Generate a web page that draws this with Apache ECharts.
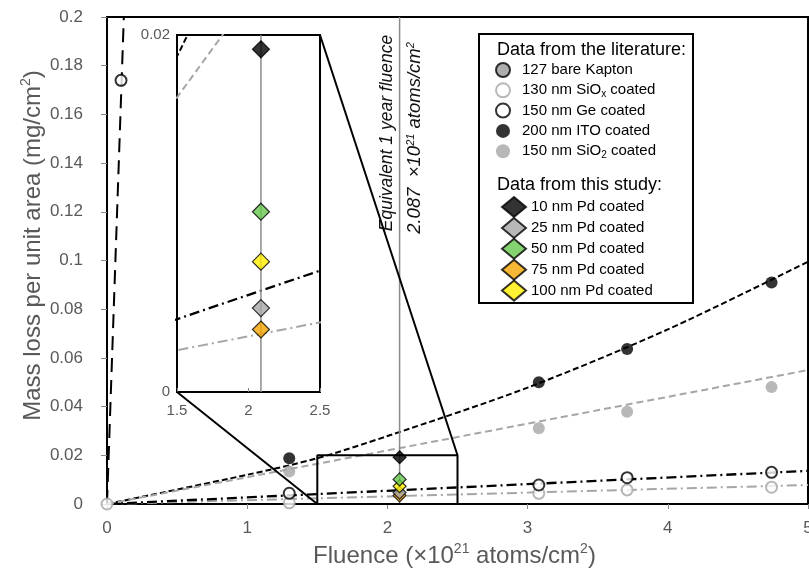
<!DOCTYPE html>
<html><head><meta charset="utf-8">
<script src="https://cdn.jsdelivr.net/npm/echarts@6/dist/echarts.min.js"></script>
<style>html,body{margin:0;padding:0;background:#fff}#c{width:809px;height:568px}</style>
</head><body><div id="c"></div><script>
// ---- Data from the literature (fluence ×10^21 atoms/cm², mass loss mg/cm²)
const kaptonX = [0.1];
const kaptonY = [0.174];
const siOxX = [0, 1.3, 3.08, 3.71, 4.74];
const siOxY = [0, 0.0005, 0.0044, 0.0058, 0.0069];
const geX = [1.3, 3.08, 3.71, 4.74];
const geY = [0.0044, 0.0078, 0.0108, 0.013];
const itoX = [1.3, 3.08, 3.71, 4.74];
const itoY = [0.0188, 0.050, 0.0637, 0.091];
const siO2X = [1.3, 3.08, 3.71, 4.74];
const siO2Y = [0.0133, 0.0311, 0.0379, 0.048];
// ---- Data from this study
const pdFluence = 2.087;
const pdNames = ['10 nm Pd coated', '25 nm Pd coated', '50 nm Pd coated', '75 nm Pd coated', '100 nm Pd coated'];
const pdY = [0.0192, 0.0047, 0.0101, 0.0035, 0.0073];
// ---- Trend lines
const kaptonFitX = [0, 0.12];
const kaptonFitY = [0, 0.2];
const siOxFitX = [0, 5];
const siOxFitY = [0, 0.0078];
const geFitX = [0, 5];
const geFitY = [0, 0.0136];
const siO2FitX = [0, 5];
const siO2FitY = [0, 0.055];
const itoFitX = [0, 1, 1.5, 2, 3, 4, 5];
const itoFitY = [0, 0.012, 0.0188, 0.0279, 0.0478, 0.0717, 0.0995];
// ---- Equivalent 1 year fluence line
const yearLineY = [0, 0.2];
const insetLineY = [0, 0.02];
// ---- zoom window
const zoomX = [1.5, 2.5];
const zoomY = [0, 0.02];

const FONT = "'Liberation Sans', Arial, sans-serif";
const GRAY = '#595959';
const zip = (xs, ys) => xs.map((x, i) => [x, ys[i]]);
const pdColors = ['#000000', '#a6a6a6', '#66c84c', '#f5a400', '#ffee00'];

const chart = echarts.init(document.getElementById('c'), null, {renderer: 'canvas'});

function fit(name, xs, ys, color, type, grid, width) {
  return {
    name: name, type: 'line', xAxisIndex: grid, yAxisIndex: grid,
    data: zip(xs, ys), showSymbol: false, symbol: 'none', silent: true,
    smooth: xs.length > 2 ? 0.3 : false, clip: true, z: grid === 1 ? 6 : 3,
    lineStyle: {color: color, width: width || 2, type: type}
  };
}
function scatter(name, xs, ys, style, grid, size, symbol, z) {
  return {
    name: name, type: 'scatter', xAxisIndex: grid, yAxisIndex: grid,
    data: zip(xs, ys), symbol: symbol || 'circle', symbolSize: size, z: z || 5,
    itemStyle: style, clip: false
  };
}

const dashDot = [10, 4, 2, 4];
const series = [
  fit('fitKapton', kaptonFitX, kaptonFitY, '#000', [14, 8], 0),
  fit('fitSiOx', siOxFitX, siOxFitY, '#a6a6a6', dashDot, 0),
  fit('fitGe', geFitX, geFitY, '#000', dashDot, 0, 2.3),
  fit('fitITO', itoFitX, itoFitY, '#000', [6, 3], 0),
  fit('fitSiO2', siO2FitX, siO2FitY, '#a6a6a6', [7, 4], 0),
  fit('yearLine', [pdFluence, pdFluence], yearLineY, '#8c8c8c', 'solid', 0, 1.5),
  fit('zoomRect', [zoomX[0], zoomX[1], zoomX[1], zoomX[0], zoomX[0]], [zoomY[0], zoomY[0], zoomY[1], zoomY[1], zoomY[0]], '#000', 'solid', 0, 2),
  scatter('127 bare Kapton', kaptonX, kaptonY, {color: '#ffffff', borderColor: '#000', borderWidth: 2}, 0, 11),
  scatter('130 nm SiOx coated', siOxX, siOxY, {color: '#ffffff', borderColor: '#a6a6a6', borderWidth: 2}, 0, 11),
  scatter('150 nm Ge coated', geX, geY, {color: '#ffffff', borderColor: '#000', borderWidth: 2}, 0, 11),
  scatter('200 nm ITO coated', itoX, itoY, {color: '#000'}, 0, 12),
  scatter('150 nm SiO2 coated', siO2X, siO2Y, {color: '#a6a6a6'}, 0, 12),
  // inset
  fit('iSiOx', siOxFitX, siOxFitY, '#a6a6a6', dashDot, 1),
  fit('iGe', geFitX, geFitY, '#000', dashDot, 1, 2.3),
  fit('iITO', itoFitX, itoFitY, '#000', [6, 3], 1),
  fit('iSiO2', siO2FitX, siO2FitY, '#a6a6a6', [7, 4], 1),
  fit('iYear', [pdFluence, pdFluence], insetLineY, '#8c8c8c', 'solid', 1, 1.5)
];
const pdOrderMain = [3, 1, 4, 2, 0];
pdOrderMain.forEach((k, j) => {
  series.push(scatter(pdNames[k], [pdFluence], [pdY[k]], {color: pdColors[k], borderColor: '#000', borderWidth: 1.2}, 0, 13, 'diamond', 6 + j));
});
[0, 1, 2, 3, 4].forEach(k => {
  series.push(scatter(pdNames[k], [pdFluence], [pdY[k]], {color: pdColors[k], borderColor: '#000', borderWidth: 1.2}, 1, 17, 'diamond', 8));
});

const legendFormatter = function (name) {
  return name.replace('SiOx', 'SiO{sub|x}').replace('SiO2', 'SiO{sub|2}');
};
const legendText = {
  fontFamily: FONT, fontSize: 15, color: '#000', lineHeight: 18,
  rich: {sub: {fontFamily: FONT, fontSize: 10, lineHeight: 10, verticalAlign: 'bottom', color: '#000'}}
};

const option = {
  animation: false,
  backgroundColor: '#fff',
  textStyle: {fontFamily: FONT},
  grid: [
    {left: 107, right: 1, top: 17, bottom: 64, show: true, borderColor: '#000', borderWidth: 2, backgroundColor: 'transparent', outerBoundsMode: 'none', containLabel: false},
    {left: 177, top: 35, width: 143, height: 357, show: true, borderColor: '#000', borderWidth: 2, backgroundColor: '#fff', z: 4, outerBoundsMode: 'none', containLabel: false}
  ],
  xAxis: [
    {type: 'value', gridIndex: 0, min: 0, max: 5, interval: 1,
      axisLine: {show: true, lineStyle: {color: '#000', width: 2}},
      axisTick: {show: true, length: 5, lineStyle: {color: '#888'}},
      axisLabel: {color: GRAY, fontSize: 17, margin: 16, fontFamily: FONT},
      splitLine: {show: false},
      name: 'Fluence (×10{sup|21} atoms/cm{sup|2})', nameLocation: 'middle', nameGap: 35,
      nameTextStyle: {color: GRAY, fontSize: 24, fontFamily: FONT, lineHeight: 28, padding: [0, 6, 0, 0],
        rich: {sup: {fontSize: 14, lineHeight: 14, verticalAlign: 'top', color: GRAY, fontFamily: FONT}}}
    },
    {type: 'value', gridIndex: 1, min: 1.5, max: 2.5, interval: 0.5, z: 5,
      axisLine: {show: true, lineStyle: {color: '#000', width: 2}},
      axisTick: {show: true, inside: true, length: 4, lineStyle: {color: '#888'}},
      axisLabel: {color: GRAY, fontSize: 15, margin: 11, fontFamily: FONT},
      splitLine: {show: false}
    }
  ],
  yAxis: [
    {type: 'value', gridIndex: 0, min: 0, max: 0.2, interval: 0.02,
      axisLine: {show: true, lineStyle: {color: '#000', width: 2}},
      axisTick: {show: true, length: 6, lineStyle: {color: '#888'}},
      axisLabel: {color: GRAY, fontSize: 17, margin: 24, fontFamily: FONT},
      splitLine: {show: false},
      name: 'Mass loss per unit area (mg/cm{sup|2})', nameLocation: 'middle', nameGap: 60, nameMoveOverlap: false,
      nameTextStyle: {color: GRAY, fontSize: 24, fontFamily: FONT, lineHeight: 28, padding: [0, 0, 0, 30],
        rich: {sup: {fontSize: 14, lineHeight: 14, verticalAlign: 'top', color: GRAY, fontFamily: FONT}}}
    },
    {type: 'value', gridIndex: 1, min: 0, max: 0.02, interval: 0.02, z: 5,
      axisLine: {show: true, lineStyle: {color: '#000', width: 2}},
      axisTick: {show: false},
      axisLabel: {color: GRAY, fontSize: 15, margin: 7, fontFamily: FONT},
      splitLine: {show: false}
    }
  ],
  legend: [
    {orient: 'vertical', left: 495, top: 61, padding: 0, itemGap: 2.3, itemWidth: 28, itemHeight: 14,
      selectedMode: false, symbolKeepAspect: true,
      data: [
        {name: '127 bare Kapton', itemStyle: {color: '#999', borderColor: '#000', borderWidth: 2}},
        {name: '130 nm SiOx coated'}, {name: '150 nm Ge coated'}, {name: '200 nm ITO coated'}, {name: '150 nm SiO2 coated'}
      ],
      formatter: legendFormatter, textStyle: legendText},
    {orient: 'vertical', left: 501, top: 196, padding: 0, itemGap: -1.1, itemWidth: 24, itemHeight: 20,
      selectedMode: false, symbolKeepAspect: true,
      data: pdNames.map(n => ({name: n})),
      formatter: legendFormatter, textStyle: legendText}
  ],
  series: series
};
chart.setOption(option);

// overlay: legend frame, titles, connector lines, annotation texts
const p = (g, v) => chart.convertToPixel({gridIndex: g}, v);
const a1 = p(1, [zoomX[0], zoomY[0]]), b1 = p(0, [zoomX[0], zoomY[0]]);
const a2 = p(1, [zoomX[1], zoomY[1]]), b2 = p(0, [zoomX[1], zoomY[1]]);
const vx = p(0, [pdFluence, 0])[0];
chart.setOption({
  graphic: [
    {type: 'rect', shape: {x: 479, y: 34, width: 214, height: 269}, style: {fill: '#fff', stroke: '#000', lineWidth: 2}, z: 1},
    {type: 'text', x: 497, y: 50, style: {text: 'Data from the literature:', font: '18px ' + FONT, fill: '#000', verticalAlign: 'middle'}, z: 2},
    {type: 'text', x: 497, y: 185, style: {text: 'Data from this study:', font: '18px ' + FONT, fill: '#000', verticalAlign: 'middle'}, z: 2},
    {type: 'line', shape: {x1: a1[0], y1: a1[1], x2: b1[0], y2: b1[1]}, style: {stroke: '#000', lineWidth: 2}, z: 10},
    {type: 'line', shape: {x1: a2[0], y1: a2[1], x2: b2[0], y2: b2[1]}, style: {stroke: '#000', lineWidth: 2}, z: 10},
    {type: 'text', x: vx - 12, y: 133, rotation: Math.PI / 2,
      style: {text: 'Equivalent 1 year fluence', font: 'italic 17.5px ' + FONT, fill: '#111', align: 'center', verticalAlign: 'middle'}, z: 2},
    {type: 'text', x: vx + 15, y: 138, rotation: Math.PI / 2,
      style: {text: '2.087  ×10{sup|21} atoms/cm{sup|2}', font: 'italic 18.5px ' + FONT, fill: '#111', align: 'center', verticalAlign: 'middle',
        rich: {sup: {font: 'italic 11px ' + FONT, fill: '#111', verticalAlign: 'top', lineHeight: 11}}}, z: 2}
  ]
});
</script></body></html>
